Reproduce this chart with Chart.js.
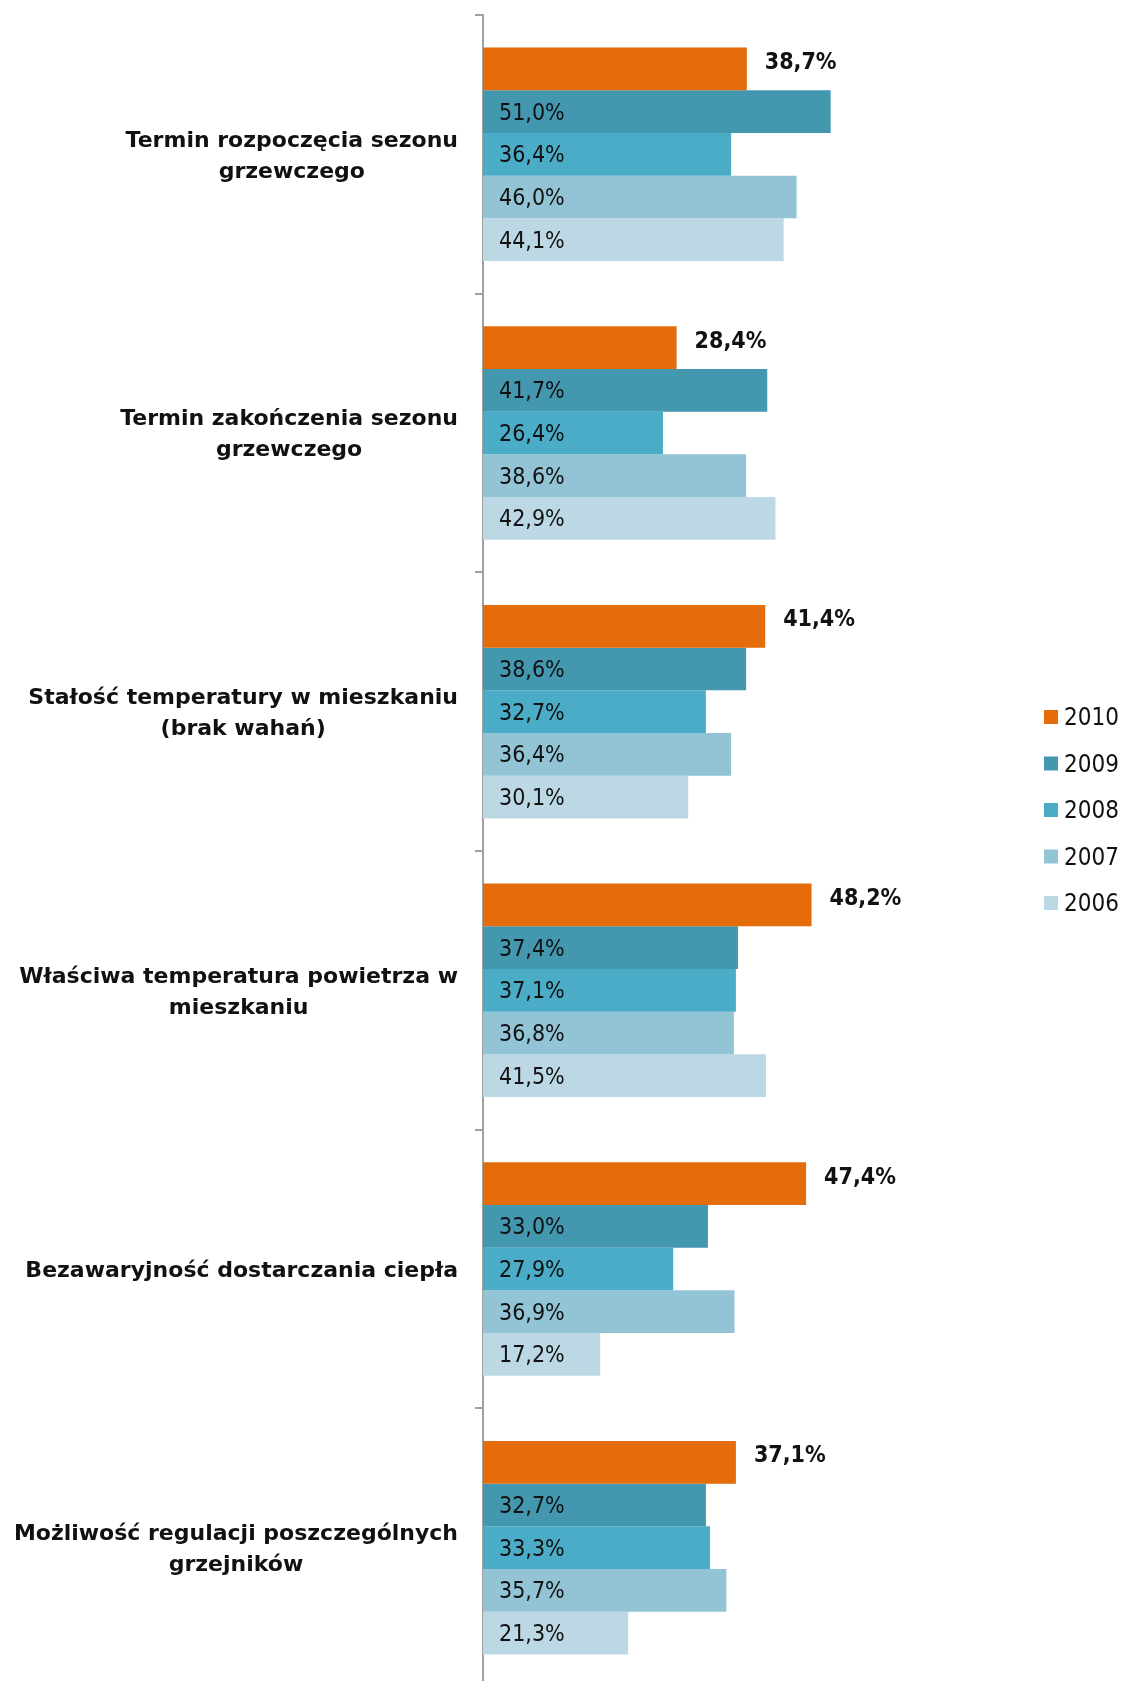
<!DOCTYPE html>
<html>
<head>
<meta charset="utf-8">
<script src="https://cdn.jsdelivr.net/npm/chart.js@4.4.1/dist/chart.umd.min.js"></script>
<style>
  html, body { margin: 0; padding: 0; background: #fff; overflow: hidden; }
  #wykres { display: block; }
</style>
</head>
<body>
<canvas id="wykres" width="1123" height="1690"></canvas>
<script>
// kategorie (etykiety osi) i wyniki dla kolejnych lat
const categories = [
  ["Termin rozpoczęcia sezonu", "grzewczego"],
  ["Termin zakończenia sezonu", "grzewczego"],
  ["Stałość temperatury w mieszkaniu", "(brak wahań)"],
  ["Właściwa temperatura powietrza w", "mieszkaniu"],
  ["Bezawaryjność dostarczania ciepła"],
  ["Możliwość regulacji poszczególnych", "grzejników"],
];

const years = ["2010", "2009", "2008", "2007", "2006"];

const values2010 = [38.7, 28.4, 41.4, 48.2, 47.4, 37.1];
const values2009 = [51.0, 41.7, 38.6, 37.4, 33.0, 32.7];
const values2008 = [36.4, 26.4, 32.7, 37.1, 27.9, 33.3];
const values2007 = [46.0, 38.6, 36.4, 36.8, 36.9, 35.7];
const values2006 = [44.1, 42.9, 30.1, 41.5, 17.2, 21.3];

const colors = ["#E46C0A", "#4397AF", "#4AACC6", "#93C4D6", "#BCD8E4"];

const FONT = "'DejaVu Sans Condensed', 'DejaVu Sans', sans-serif";
const LABEL_FONT = "'DejaVu Sans', sans-serif";

function fmt(v) {
  return v.toFixed(1).replace(".", ",") + "%";
}

// etykiety kategorii: blok wyrównany do prawej, linie wyśrodkowane względem siebie
const categoryLabels = {
  id: "categoryLabels",
  afterDraw(chart) {
    const { ctx } = chart;
    const yScale = chart.scales.y;
    const right = chart.chartArea.left - 25;
    const lineH = 31;
    ctx.save();
    ctx.font = "bold 22px " + LABEL_FONT;
    ctx.fillStyle = "#111";
    ctx.textAlign = "center";
    ctx.textBaseline = "middle";
    categories.forEach((lines, i) => {
      const cy = yScale.getPixelForValue(i) + 2;
      const maxW = Math.max(...lines.map((l) => ctx.measureText(l).width));
      const cx = right - maxW / 2;
      const y0 = cy - ((lines.length - 1) * lineH) / 2;
      lines.forEach((l, k) => ctx.fillText(l, cx, y0 + k * lineH));
    });
    ctx.restore();
  },
};

// wartości na słupkach
const valueLabels = {
  id: "valueLabels",
  afterDatasetsDraw(chart) {
    const { ctx } = chart;
    ctx.save();
    ctx.fillStyle = "#111";
    ctx.textAlign = "left";
    ctx.textBaseline = "middle";
    chart.data.datasets.forEach((ds, di) => {
      const meta = chart.getDatasetMeta(di);
      meta.data.forEach((bar, i) => {
        const txt = fmt(ds.data[i]);
        if (di === 0) {
          ctx.font = "bold 23px " + FONT;
          ctx.fillText(txt, bar.x + 18, bar.y - 6);
        } else {
          ctx.font = "23px " + FONT;
          ctx.fillText(txt, bar.base + 16, bar.y + 2);
        }
      });
    });
    ctx.restore();
  },
};

// legenda po prawej stronie
const sideLegend = {
  id: "sideLegend",
  afterDraw(chart) {
    const { ctx } = chart;
    const x = chart.chartArea.right + 152;
    const top = 717;
    const step = 46.5;
    ctx.save();
    ctx.font = "24px " + FONT;
    ctx.textAlign = "left";
    ctx.textBaseline = "middle";
    chart.data.datasets.forEach((ds, i) => {
      const y = top + i * step;
      ctx.fillStyle = ds.backgroundColor;
      ctx.fillRect(x, y - 7, 14, 14);
      ctx.fillStyle = "#111";
      ctx.fillText(ds.label, x + 20, y + 2);
    });
    ctx.restore();
  },
};

const seriesValues = [values2010, values2009, values2008, values2007, values2006];

new Chart(document.getElementById("wykres"), {
  type: "bar",
  data: {
    labels: categories,
    datasets: years.map((y, i) => ({
      label: y,
      data: seriesValues[i],
      backgroundColor: colors[i],
      borderWidth: 0,
      barPercentage: 1,
      categoryPercentage: 0.766,
    })),
  },
  options: {
    indexAxis: "y",
    responsive: false,
    animation: false,
    layout: { padding: { top: 15, right: 231, bottom: 3, left: 0 } },
    plugins: {
      legend: { display: false },
      tooltip: { enabled: false },
    },
    scales: {
      x: { display: false, min: 0, max: 60 },
      y: {
        afterFit(scale) {
          scale.width = 483;
        },
        ticks: { display: false },
        border: { display: true, color: "#A0A0A0", width: 2 },
        grid: {
          offset: true,
          drawOnChartArea: false,
          drawTicks: true,
          tickLength: 8,
          color: "#A0A0A0",
          lineWidth: 2,
        },
      },
    },
  },
  plugins: [categoryLabels, valueLabels, sideLegend],
});
</script>
</body>
</html>
